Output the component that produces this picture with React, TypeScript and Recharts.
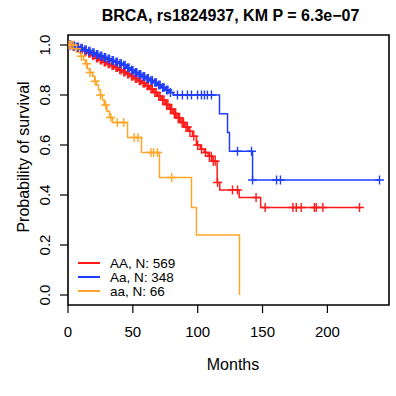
import { ComposedChart, Line, Scatter, XAxis, YAxis, ReferenceArea } from 'recharts'

const FONT = '"Liberation Sans", Arial, Helvetica, sans-serif'

const seriesNames = ['AA, N: 569', 'Aa, N: 348', 'aa, N: 66']
const seriesColors = ['#ff1a1a', '#1f3dff', '#ffa629']

const xTicks = [0, 50, 100, 150, 200]
const yTicks = [0, 0.2, 0.4, 0.6, 0.8, 1.0]

// AA
const redTime = [0, 3, 6, 9, 12, 15, 18, 21, 24, 27, 30, 33, 36, 39, 42, 45, 48, 51, 54, 57, 60, 63, 66, 69, 72, 75, 78, 81, 84, 87, 90, 93, 96, 99, 102, 105, 108, 111, 115, 117, 132, 148.5, 225]
const redSurv = [1.0, 0.995, 0.99, 0.983, 0.975, 0.967, 0.958, 0.948, 0.94, 0.932, 0.925, 0.918, 0.91, 0.9, 0.892, 0.884, 0.875, 0.866, 0.857, 0.847, 0.837, 0.825, 0.81, 0.795, 0.78, 0.762, 0.744, 0.726, 0.708, 0.69, 0.672, 0.655, 0.635, 0.6, 0.583, 0.57, 0.555, 0.535, 0.45, 0.42, 0.39, 0.35, 0.35]
const redCensor = [1, 2, 4, 5, 7, 8, 10, 11, 13, 14, 16, 17, 19, 20, 22, 23, 25, 26, 28, 29, 31, 32, 34, 35, 37, 38, 40, 41, 43, 44, 46, 47, 49, 50, 52, 53, 55, 56, 58, 59, 61, 62, 64, 65, 67, 68, 70, 71, 73, 74, 76, 77, 79, 80, 82, 83, 85, 86, 88, 89, 91, 92, 94, 97, 100, 103, 106, 109, 110.5, 112, 113.5, 115.3, 126.8, 130.7, 145, 152, 173.4, 176, 179.8, 190, 191.4, 196.5, 224.8]

// Aa
const blueTime = [0, 3, 6, 9, 12, 15, 18, 21, 24, 27, 30, 33, 36, 39, 42, 45, 48, 51, 54, 57, 60, 63, 66, 69, 72, 75, 78, 81, 116.8, 123, 124.5, 142.3, 240.2]
const blueSurv = [1.0, 0.996, 0.992, 0.987, 0.981, 0.975, 0.969, 0.962, 0.956, 0.95, 0.944, 0.938, 0.932, 0.926, 0.919, 0.909, 0.899, 0.89, 0.882, 0.874, 0.866, 0.858, 0.85, 0.84, 0.83, 0.82, 0.81, 0.8, 0.725, 0.65, 0.575, 0.46, 0.46]
const blueCensor = [1, 2, 4, 5, 7, 8, 10, 11, 13, 14, 16, 17, 19, 20, 22, 23, 25, 26, 28, 29, 31, 32, 34, 35, 37, 38, 40, 41, 43, 44, 46, 47, 49, 50, 52, 53, 55, 56, 58, 59, 61, 62, 64, 65, 67, 68, 70, 71, 73, 74, 76, 77, 79, 84.4, 88.2, 92.1, 95.2, 99.9, 102.9, 105.2, 107.5, 110.6, 130.7, 141.5, 142.3, 160.8, 163.8, 240.2]

// aa
const orangeTime = [0, 5, 8, 10, 12, 13.5, 15, 17, 19, 20.5, 22, 23.5, 25, 26.5, 28, 30, 32, 34.3, 45.9, 56.7, 70.5, 95.2, 99, 132.2]
const orangeSurv = [1.0, 0.985, 0.97, 0.955, 0.94, 0.925, 0.905, 0.89, 0.875, 0.855, 0.84, 0.82, 0.8, 0.78, 0.76, 0.735, 0.71, 0.69, 0.63, 0.57, 0.47, 0.35, 0.24, 0]
const orangeCensor = [1, 2, 4, 6.5, 10.4, 14.3, 17, 21, 25, 29, 33, 38, 43, 51, 54, 64, 66, 69, 80]

const steps = (times: number[], surv: number[]) => times.map((t, i) => ({ t, s: surv[i] }))

const survAt = (times: number[], surv: number[], t: number) => {
  let s = surv[0]
  for (let i = 0; i < times.length; i++) {
    if (times[i] <= t) s = surv[i]
  }
  return s
}

const marks = (censor: number[], times: number[], surv: number[]) =>
  censor.map((t) => ({ t, s: survAt(times, surv, t) }))

const curves = [
  { name: 'red', steps: steps(redTime, redSurv), marks: marks(redCensor, redTime, redSurv), color: seriesColors[0] },
  { name: 'blue', steps: steps(blueTime, blueSurv), marks: marks(blueCensor, blueTime, blueSurv), color: seriesColors[1] },
  { name: 'orange', steps: steps(orangeTime, orangeSurv), marks: marks(orangeCensor, orangeTime, orangeSurv), color: seriesColors[2] }
]

const plus = (color: string) => (props: any) => {
  const { cx, cy } = props
  if (cx == null || cy == null) return <g />
  return (
    <path
      d={`M${cx - 4.5},${cy}H${cx + 4.5}M${cx},${cy - 4.5}V${cy + 4.5}`}
      stroke={color}
      strokeWidth={1.4}
      fill="none"
    />
  )
}

const XTick = (props: any) => (
  <text x={props.x} y={337} textAnchor="middle" fontFamily={FONT} fontSize={15} fill="#000">
    {props.payload.value}
  </text>
)

const YTick = (props: any) => (
  <text
    x={50}
    y={props.y}
    transform={`rotate(-90, 50, ${props.y})`}
    textAnchor="middle"
    fontFamily={FONT}
    fontSize={15}
    fill="#000">
    {Number(props.payload.value).toFixed(1)}
  </text>
)

export default function App() {
  return (
    <div style={{ position: 'absolute', left: 0, top: 0, width: 396, height: 396, background: '#fff' }}>
      <ComposedChart width={396} height={396} margin={{ top: 35, right: 7, bottom: 0, left: 0 }}>
        <XAxis
          type="number"
          dataKey="t"
          domain={[0, 247.5]}
          ticks={xTicks}
          interval={0}
          allowDataOverflow
          height={91}
          axisLine={false}
          tickSize={8}
          tickLine={{ stroke: '#000', strokeWidth: 1.2 }}
          tick={<XTick />}
        />
        <YAxis
          type="number"
          domain={[-0.04, 1.04]}
          ticks={yTicks}
          interval={0}
          allowDataOverflow
          width={68}
          axisLine={false}
          tickSize={8}
          tickLine={{ stroke: '#000', strokeWidth: 1.2 }}
          tick={<YTick />}
        />
        {curves.map((c) => (
          <Line
            key={c.name}
            data={c.steps}
            dataKey="s"
            type="stepAfter"
            stroke={c.color}
            strokeWidth={1.5}
            dot={false}
            activeDot={false}
            isAnimationActive={false}
          />
        ))}
        {curves.map((c) => (
          <Scatter
            key={c.name + '-censor'}
            data={c.marks}
            dataKey="s"
            shape={plus(c.color)}
            isAnimationActive={false}
          />
        ))}
        <ReferenceArea
          x1={0}
          x2={247.5}
          y1={-0.04}
          y2={1.04}
          fill="none"
          fillOpacity={0}
          stroke="#000"
          strokeWidth={1.6}
          ifOverflow="visible"
        />
      </ComposedChart>
      <svg
        width={396}
        height={396}
        style={{ position: 'absolute', left: 0, top: 0, pointerEvents: 'none' }}
        fontFamily={FONT}>
        <text x={230.5} y={21} textAnchor="middle" fontSize={16} fontWeight="bold">
          BRCA, rs1824937, KM P = 6.3e−07
        </text>
        <text x={233} y={370} textAnchor="middle" fontSize={16}>
          Months
        </text>
        <text x={29} y={157} transform="rotate(-90, 29, 157)" textAnchor="middle" fontSize={16}>
          Probability of survival
        </text>
        {seriesNames.map((n, i) => (
          <g key={n}>
            <line x1={78} x2={100} y1={263 + i * 14} y2={263 + i * 14} stroke={seriesColors[i]} strokeWidth={2} />
            <text x={110} y={267.5 + i * 14} fontSize={13.5}>
              {n}
            </text>
          </g>
        ))}
      </svg>
    </div>
  )
}
